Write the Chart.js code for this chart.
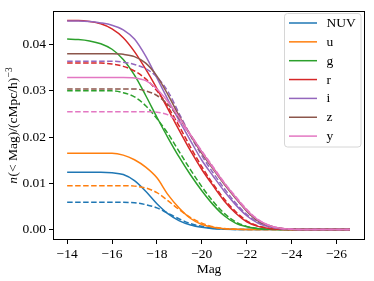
<!DOCTYPE html>
<html>
<head>
<meta charset="utf-8">
<script src="https://cdn.jsdelivr.net/npm/chart.js@4.4.1/dist/chart.umd.min.js"></script>
<style>
html,body{margin:0;padding:0;background:#fff;}
canvas{display:block;}
</style>
</head>
<body>
<canvas id="c" width="374" height="281" style="width:374px;height:281px"></canvas>
<script>
// ---- data ----
const bands = ["NUV", "u", "g", "r", "i", "z", "y"];
const bandColors = ["#1f77b4", "#ff7f0e", "#2ca02c", "#d62728", "#9467bd", "#8c564b", "#e377c2"];
const mags = [-14,-14.5,-15,-15.5,-16,-16.5,-17,-17.5,-18,-18.5,-19,-19.5,-20,-20.5,-21,-21.5,-22,-22.5,-23,-23.5,-24,-24.5,-25,-25.5,-26,-26.6];
const xTicks = [-14,-16,-18,-20,-22,-24,-26];
const yTicks = [0,0.01,0.02,0.03,0.04];

const nuvSolid  = [0.0124,0.0124,0.0124,0.0124,0.0123,0.0119,0.0106,0.0083,0.0056,0.0034,0.0019,0.0010,0.0005,0.0002,0.0001,0.00004,0,0,0,0,0,0,0,0,0,0];
const nuvDashed = [0.0059,0.0059,0.0059,0.0059,0.0059,0.0059,0.0058,0.0054,0.0047,0.0035,0.0023,0.0013,0.0007,0.0003,0.00012,0.00004,0,0,0,0,0,0,0,0,0,0];
const uSolid    = [0.0165,0.0165,0.0165,0.0165,0.0165,0.0161,0.0151,0.0135,0.0112,0.0075,0.0046,0.0024,0.0011,0.0005,0.0002,0.00008,0.00003,0,0,0,0,0,0,0,0,0];
const uDashed   = [0.0095,0.0095,0.0095,0.0095,0.0095,0.0095,0.0094,0.0090,0.0080,0.0062,0.0043,0.0026,0.0014,0.0006,0.00025,0.0001,0.00003,0,0,0,0,0,0,0,0,0];
const gSolid    = [0.0412,0.0411,0.0408,0.0402,0.0390,0.0368,0.0334,0.0290,0.0243,0.0198,0.0156,0.0118,0.0084,0.0054,0.0030,0.0014,0.0006,0.0002,0.00008,0.00003,0,0,0,0,0,0];
const gDashed   = [0.0300,0.0300,0.0300,0.0300,0.0300,0.0296,0.0287,0.0268,0.0240,0.0207,0.0168,0.0129,0.0093,0.0061,0.0035,0.0017,0.0007,0.00025,0.0001,0.00003,0,0,0,0,0,0];
const rSolid    = [0.0452,0.0452,0.0450,0.0445,0.0434,0.0415,0.0385,0.0347,0.0305,0.0260,0.0214,0.0170,0.0130,0.0095,0.0062,0.0036,0.0017,0.0007,0.00025,0.00008,0.00002,0,0,0,0,0];
const rDashed   = [0.0360,0.0360,0.0360,0.0360,0.0358,0.0353,0.0343,0.0326,0.0300,0.0265,0.0223,0.0178,0.0136,0.0099,0.0066,0.0039,0.0019,0.0008,0.0003,0.0001,0.00003,0,0,0,0,0];
const iSolid    = [0.0451,0.0451,0.0450,0.0447,0.0442,0.0432,0.0412,0.0375,0.0328,0.0280,0.0235,0.0192,0.0150,0.0116,0.0083,0.0054,0.0030,0.0014,0.0006,0.0002,0.00006,0.00002,0,0,0,0];
const iDashed   = [0.0364,0.0364,0.0364,0.0364,0.0364,0.0362,0.0357,0.0348,0.0330,0.0298,0.0250,0.0203,0.0160,0.0123,0.0089,0.0058,0.0033,0.0016,0.0007,0.00025,0.00008,0.00002,0,0,0,0];
const zSolid    = [0.0380,0.0380,0.0380,0.0380,0.0380,0.0379,0.0374,0.0360,0.0332,0.0291,0.0245,0.0203,0.0165,0.0131,0.0098,0.0068,0.0040,0.0019,0.0008,0.0003,0.0001,0.00003,0,0,0,0];
const zDashed   = [0.0304,0.0304,0.0304,0.0304,0.0304,0.0304,0.0304,0.0300,0.0290,0.0270,0.0240,0.0205,0.0168,0.0134,0.0100,0.0070,0.0042,0.0020,0.0009,0.0003,0.0001,0.00003,0,0,0,0];
const ySolid    = [0.0329,0.0329,0.0329,0.0329,0.0329,0.0329,0.0328,0.0322,0.0304,0.0276,0.0242,0.0205,0.0168,0.0133,0.0100,0.0070,0.0042,0.0021,0.0009,0.0003,0.0001,0.00003,0,0,0,0];
const yDashed   = [0.0255,0.0255,0.0255,0.0255,0.0255,0.0255,0.0255,0.0255,0.0254,0.0248,0.0232,0.0204,0.0170,0.0136,0.0102,0.0072,0.0044,0.0022,0.0009,0.0003,0.0001,0.00003,0,0,0,0];

const solidSeries = [nuvSolid, uSolid, gSolid, rSolid, iSolid, zSolid, ySolid];
const dashedSeries = [nuvDashed, uDashed, gDashed, rDashed, iDashed, zDashed, yDashed];

// ---- build ----
const FONT = "'Liberation Serif', 'DejaVu Serif', serif";
const datasets = [];
let k = 0;
bands.forEach((b, i) => {
  datasets.push({
    label: b,
    data: mags.map((m, j) => ({x: m, y: solidSeries[i][j]})),
    borderColor: bandColors[i], borderWidth: 1.5, pointRadius: 0,
    cubicInterpolationMode: 'monotone', fill: false, order: 100 - (k++)
  });
  datasets.push({
    label: b + ' (dashed)',
    data: mags.map((m, j) => ({x: m, y: dashedSeries[i][j]})),
    borderColor: bandColors[i], borderWidth: 1.5, borderDash: [5.5, 2.5], pointRadius: 0,
    cubicInterpolationMode: 'monotone', fill: false, order: 100 - (k++)
  });
});

const decor = {
  id: 'decor',
  afterDraw(chart) {
    const ctx = chart.ctx;
    const a = chart.chartArea;
    ctx.save();
    // frame
    ctx.strokeStyle = '#000';
    ctx.lineWidth = 1;
    ctx.strokeRect(Math.round(a.left) + 0.5, Math.round(a.top) + 0.5, Math.round(a.right - a.left) - 1, Math.round(a.bottom - a.top) - 1);

    // x title
    ctx.fillStyle = '#000';
    ctx.font = "13.5px " + FONT;
    ctx.textAlign = 'center';
    ctx.textBaseline = 'alphabetic';
    ctx.fillText('Mag', (a.left + a.right) / 2, 273);

    // y title
    ctx.save();
    ctx.translate(17, (a.top + a.bottom) / 2);
    ctx.rotate(-Math.PI / 2);
    const fI = "italic 13.5px " + FONT, fR = "13.5px " + FONT, fS = "9.5px " + FONT;
    const p1 = 'n', p2 = '(< Mag)/(cMpc/h)', p3 = '\u22123';
    ctx.font = fI; const w1 = ctx.measureText(p1).width;
    ctx.font = fR; const w2 = ctx.measureText(p2).width;
    ctx.font = fS; const w3 = ctx.measureText(p3).width;
    let x0 = -(w1 + w2 + w3 + 1) / 2;
    ctx.textAlign = 'left';
    ctx.font = fI; ctx.fillText(p1, x0, 0); x0 += w1 + 0.5;
    ctx.font = fR; ctx.fillText(p2, x0, 0); x0 += w2 + 0.5;
    ctx.font = fS; ctx.fillText(p3, x0, -5.5);
    ctx.restore();

    // legend
    const lx = 284.5, ly = 13.5, lw = 76.5, lh = 133.5, r = 3;
    ctx.beginPath();
    ctx.moveTo(lx + r, ly);
    ctx.lineTo(lx + lw - r, ly); ctx.quadraticCurveTo(lx + lw, ly, lx + lw, ly + r);
    ctx.lineTo(lx + lw, ly + lh - r); ctx.quadraticCurveTo(lx + lw, ly + lh, lx + lw - r, ly + lh);
    ctx.lineTo(lx + r, ly + lh); ctx.quadraticCurveTo(lx, ly + lh, lx, ly + lh - r);
    ctx.lineTo(lx, ly + r); ctx.quadraticCurveTo(lx, ly, lx + r, ly);
    ctx.closePath();
    ctx.fillStyle = 'rgba(255,255,255,0.85)';
    ctx.fill();
    ctx.strokeStyle = '#d6d6d6';
    ctx.lineWidth = 1;
    ctx.stroke();
    ctx.font = "13.5px " + FONT;
    ctx.textAlign = 'left';
    ctx.textBaseline = 'middle';
    bands.forEach((b, i) => {
      const yy = 23 + i * 18.85;
      ctx.strokeStyle = bandColors[i];
      ctx.lineWidth = 1.5;
      ctx.beginPath(); ctx.moveTo(289, yy); ctx.lineTo(317, yy); ctx.stroke();
      ctx.fillStyle = '#000';
      ctx.fillText(b, 326.5, yy + 0.5);
    });
    ctx.restore();
  }
};

new Chart(document.getElementById('c'), {
  type: 'line',
  data: { datasets },
  options: {
    responsive: false, animation: false, devicePixelRatio: 1,
    layout: { padding: { top: 6, right: 9, left: 0, bottom: 0 } },
    plugins: { legend: { display: false }, tooltip: { enabled: false } },
    scales: {
      x: {
        type: 'linear', reverse: true, min: -27.27, max: -13.37,
        border: { display: false },
        grid: { display: true, drawOnChartArea: false, drawTicks: true, tickLength: 4, tickColor: '#000', tickWidth: 1 },
        ticks: { color: '#000', padding: 2, maxRotation: 0, font: { family: FONT, size: 13.5 },
                 callback: v => '\u2212' + Math.abs(v) },
        afterBuildTicks: s => { s.ticks = xTicks.map(v => ({ value: v })); },
        afterFit: s => { s.height = 41; }
      },
      y: {
        type: 'linear', min: -0.00225, max: 0.04725,
        border: { display: false },
        grid: { display: true, drawOnChartArea: false, drawTicks: true, tickLength: 4, tickColor: '#000', tickWidth: 1 },
        ticks: { color: '#000', padding: 3, font: { family: FONT, size: 13.5 },
                 callback: v => v.toFixed(2) },
        afterBuildTicks: s => { s.ticks = yTicks.map(v => ({ value: v })); },
        afterFit: s => { s.width = 53; }
      }
    }
  },
  plugins: [decor]
});
</script>
</body>
</html>
